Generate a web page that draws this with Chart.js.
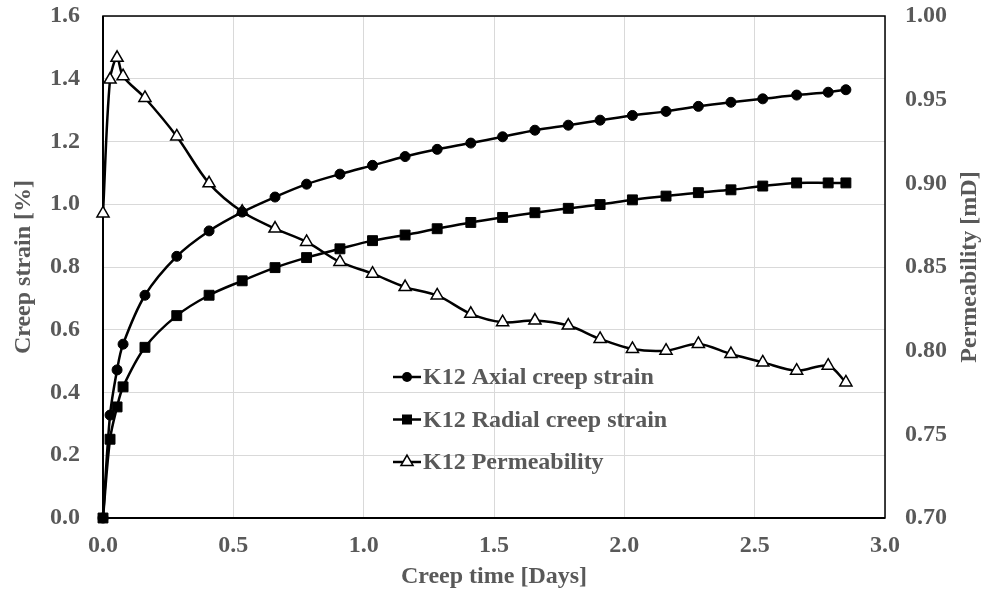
<!DOCTYPE html>
<html>
<head>
<meta charset="utf-8">
<script src="https://cdn.jsdelivr.net/npm/chart.js@4/dist/chart.umd.min.js"></script>
<style>
  html, body { margin: 0; padding: 0; background: #fff; }
  canvas { display: block; }
</style>
</head>
<body>
<canvas id="creepChart" width="986" height="595"></canvas>
<script>
// values
const timeDays = [0, 0.027, 0.054, 0.077, 0.161, 0.283, 0.407, 0.534, 0.660, 0.781, 0.909,
  1.034, 1.159, 1.282, 1.411, 1.533, 1.657, 1.785, 1.907, 2.031, 2.160, 2.284, 2.409,
  2.531, 2.661, 2.782, 2.850];
const axialStrain = [0, 0.328, 0.472, 0.554, 0.710, 0.834, 0.915, 0.975, 1.023, 1.064, 1.096,
  1.124, 1.152, 1.175, 1.195, 1.215, 1.236, 1.252, 1.268, 1.283, 1.296, 1.312, 1.325,
  1.336, 1.348, 1.357, 1.365];
const radialStrain = [0, 0.251, 0.354, 0.418, 0.544, 0.645, 0.710, 0.756, 0.798, 0.830, 0.858,
  0.884, 0.902, 0.922, 0.942, 0.958, 0.973, 0.987, 0.999, 1.014, 1.026, 1.037, 1.046,
  1.058, 1.068, 1.068, 1.068];
const permeability = [0.882, 0.962, 0.975, 0.964, 0.951, 0.928, 0.900, 0.883, 0.873, 0.865, 0.853,
  0.846, 0.838, 0.833, 0.822, 0.817, 0.818, 0.815, 0.807, 0.801, 0.800, 0.804, 0.798,
  0.793, 0.788, 0.791, 0.781];

const xTicks = [0, 0.5, 1.0, 1.5, 2.0, 2.5, 3.0];
const strainTicks = [0, 0.2, 0.4, 0.6, 0.8, 1.0, 1.2, 1.4, 1.6];
const permTicks = [0.70, 0.75, 0.80, 0.85, 0.90, 0.95, 1.00];

const seriesNames = ['K12 Axial creep strain', 'K12 Radial creep strain', 'K12 Permeability'];

const FONT = "'Times New Roman', 'Liberation Serif', serif";
const GREY = '#595959';
const tickFont = { family: FONT, size: 24, weight: 'bold' };
const titleFont = { family: FONT, size: 24, weight: 'bold' };

const pts = (ys) => ys.map((y, i) => ({ x: timeDays[i], y: y }));
const useTicks = (arr) => (scale) => { scale.ticks = arr.map(v => ({ value: v })); };
// fixed box sizes so the plot area lands where the reference has it
const fixBox = (w, h) => (s) => {
  if (w) s.width = w;
  if (h) s.height = h;
  s.paddingTop = 0; s.paddingBottom = 0; s.paddingLeft = 0; s.paddingRight = 0;
};

function drawMarker(ctx, style, x, y) {
  ctx.beginPath();
  if (style === 'circle') {
    ctx.arc(x, y, 5, 0, Math.PI * 2);
    ctx.fillStyle = '#000';
    ctx.fill();
  } else if (style === 'rect') {
    ctx.fillStyle = '#000';
    ctx.fillRect(x - 5, y - 5, 10, 10);
  } else {
    const r = 7;
    ctx.moveTo(x, y - r);
    ctx.lineTo(x + r * 0.866, y + r / 2);
    ctx.lineTo(x - r * 0.866, y + r / 2);
    ctx.closePath();
    ctx.fillStyle = '#fff';
    ctx.fill();
    ctx.lineWidth = 1.5;
    ctx.strokeStyle = '#000';
    ctx.stroke();
  }
}

const extras = {
  id: 'extras',
  beforeDatasetsDraw(chart) {
    const { ctx, chartArea: a } = chart;
    ctx.save();
    ctx.strokeStyle = '#000';
    ctx.lineWidth = 1.5;
    ctx.strokeRect(a.left, a.top, a.right - a.left, a.bottom - a.top);
    ctx.lineWidth = 2;
    ctx.beginPath();
    ctx.moveTo(a.left, a.top);
    ctx.lineTo(a.left, a.bottom);
    ctx.lineTo(a.right, a.bottom);
    ctx.stroke();
    ctx.restore();
  },
  afterDraw(chart) {
    const { ctx, chartArea: a } = chart;
    ctx.save();
    // right axis title, reads bottom to top like the left one
    ctx.translate(970, (a.top + a.bottom) / 2);
    ctx.rotate(-Math.PI / 2);
    ctx.font = 'bold 24px ' + FONT;
    ctx.fillStyle = GREY;
    ctx.textAlign = 'center';
    ctx.textBaseline = 'middle';
    ctx.fillText('Permeability [mD]', 0, 0);
    ctx.restore();

    // legend inside the plot
    const styles = ['circle', 'rect', 'triangle'];
    ctx.save();
    ctx.font = 'bold 24px ' + FONT;
    ctx.textBaseline = 'middle';
    seriesNames.forEach((name, i) => {
      const y = 377 + i * 42.5;
      ctx.strokeStyle = '#000';
      ctx.lineWidth = 2.5;
      ctx.beginPath();
      ctx.moveTo(393, y);
      ctx.lineTo(421, y);
      ctx.stroke();
      drawMarker(ctx, styles[i], 407, y);
      ctx.fillStyle = GREY;
      ctx.fillText(name, 423, y + 1);
    });
    ctx.restore();
  }
};

new Chart(document.getElementById('creepChart'), {
  type: 'line',
  data: {
    datasets: [
      {
        label: seriesNames[0],
        data: pts(axialStrain),
        yAxisID: 'y',
        clip: false,
        borderColor: '#000',
        borderWidth: 2.5,
        pointStyle: 'circle',
        pointRadius: 5,
        pointBackgroundColor: '#000',
        pointBorderColor: '#000',
        pointBorderWidth: 1,
      },
      {
        label: seriesNames[1],
        data: pts(radialStrain),
        yAxisID: 'y',
        clip: false,
        borderColor: '#000',
        borderWidth: 2.5,
        pointStyle: 'rect',
        pointRadius: 7,
        pointBackgroundColor: '#000',
        pointBorderColor: '#000',
        pointBorderWidth: 1,
      },
      {
        label: seriesNames[2],
        data: pts(permeability),
        yAxisID: 'y1',
        clip: false,
        borderColor: '#000',
        borderWidth: 2.5,
        pointStyle: 'triangle',
        pointRadius: 7,
        pointBackgroundColor: '#fff',
        pointBorderColor: '#000',
        pointBorderWidth: 1.5,
      },
    ],
  },
  options: {
    responsive: false,
    animation: false,
    layout: { padding: { top: 16 } },
    elements: { line: { tension: 0.33 } },
    plugins: {
      legend: { display: false },
      tooltip: { enabled: false },
    },
    scales: {
      x: {
        type: 'linear',
        min: 0,
        max: 3,
        afterBuildTicks: useTicks(xTicks),
        afterFit: fixBox(0, 77),
        grid: { color: '#d9d9d9', lineWidth: 1, drawTicks: false },
        border: { display: false },
        ticks: { padding: 13, color: GREY, font: tickFont, maxRotation: 0, callback: (v) => v.toFixed(1) },
        title: { display: true, text: 'Creep time [Days]', color: GREY, font: titleFont, padding: { top: 0, bottom: 4 } },
      },
      y: {
        position: 'left',
        min: 0,
        max: 1.6,
        afterBuildTicks: useTicks(strainTicks),
        afterFit: fixBox(103, 0),
        grid: { color: '#d9d9d9', lineWidth: 1, drawTicks: false },
        border: { display: false },
        ticks: { padding: 23, color: GREY, font: tickFont, callback: (v) => v.toFixed(1) },
        title: { display: true, text: 'Creep strain [%]', color: GREY, font: titleFont, padding: { top: 9, bottom: 0 } },
      },
      y1: {
        position: 'right',
        min: 0.7,
        max: 1.0,
        afterBuildTicks: useTicks(permTicks),
        afterFit: fixBox(101, 0),
        grid: { display: false, drawTicks: false },
        border: { display: false },
        ticks: { padding: 20, color: GREY, font: tickFont, callback: (v) => v.toFixed(2) },
      },
    },
  },
  plugins: [extras],
});
</script>
</body>
</html>
